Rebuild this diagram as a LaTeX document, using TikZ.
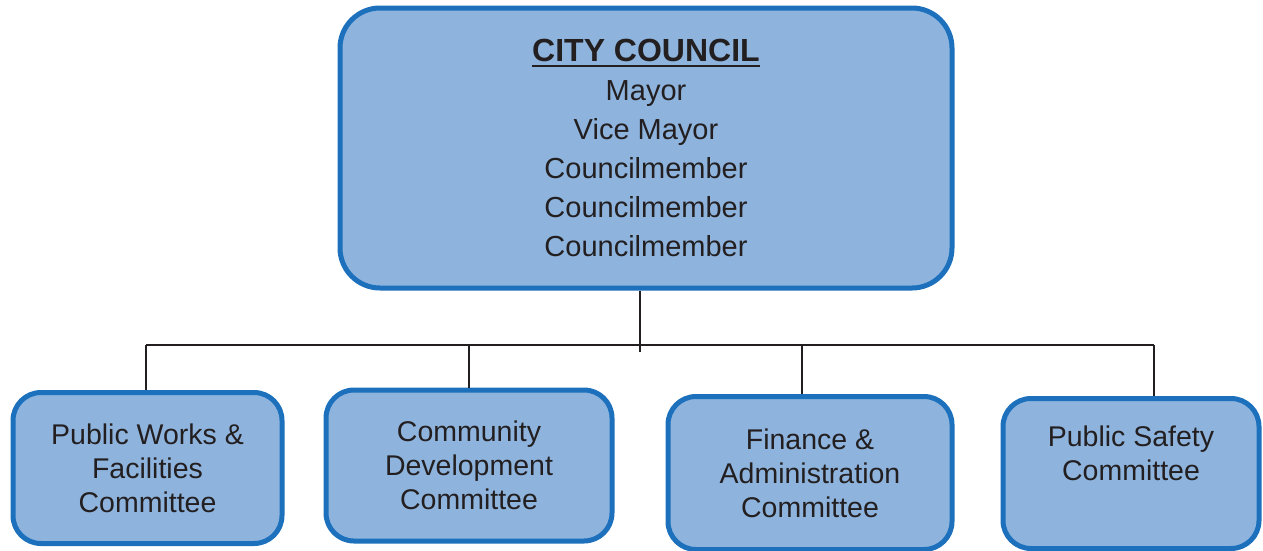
\documentclass[tikz,border=0pt]{standalone}
\usepackage{fontspec}
\setmainfont{Liberation Sans}
\usepackage{xcolor}
\definecolor{boxfill}{HTML}{8EB4DE}
\definecolor{boxline}{HTML}{1C70BC}
\definecolor{ink}{HTML}{231F20}
\newcommand\titleline[1]{\setbox0\hbox{#1}\vtop{\copy0\kern3pt\hrule height 2.6pt width \wd0}}
\begin{document}
\begin{tikzpicture}[x=1pt,y=-1pt,
  orgbox/.style={draw=boxline,fill=boxfill,line width=5pt,rounded corners=28pt,
    align=center,text=ink,inner sep=0pt},
  council/.style={orgbox,rounded corners=40pt,font=\fontsize{29}{39}\selectfont},
  cmte/.style={orgbox,font=\fontsize{28.5}{34}\selectfont},
  wire/.style={draw=ink,line width=1.6pt}]
\useasboundingbox (0,0) rectangle (1263,550);
\node[council,minimum width=612,minimum height=280] (cc) at (646,148)
  {\titleline{\fontsize{32}{39}\selectfont\bfseries CITY COUNCIL}\\Mayor\\Vice Mayor\\Councilmember\\Councilmember\\Councilmember};
\node[cmte,minimum width=269,minimum height=151] (pw) at (147.5,468)
  {Public Works \&\\Facilities\\Committee};
\node[cmte,minimum width=286,minimum height=151] (cd) at (469,465.5)
  {Community\\Development\\Committee};
\node[cmte,minimum width=284,minimum height=153] (fa) at (810,473)
  {Finance \&\\Administration\\Committee};
\node[cmte,minimum width=256,minimum height=150,text depth=40pt] (ps) at (1131,473.5)
  {Public Safety\\Committee};
\coordinate (hub) at (640,352);
\coordinate (d1) at (146,345);
\coordinate (d2) at (469,345);
\coordinate (d3) at (802,345);
\coordinate (d4) at (1154,345);
\draw[wire] (cc.south -| hub) -- (hub);
\draw[wire] (d1) -- (d4);
\draw[wire] (d1) -- (d1 |- pw.north);
\draw[wire] (d2) -- (d2 |- cd.north);
\draw[wire] (d3) -- (d3 |- fa.north);
\draw[wire] (d4) -- (d4 |- ps.north);
\end{tikzpicture}
\end{document}
